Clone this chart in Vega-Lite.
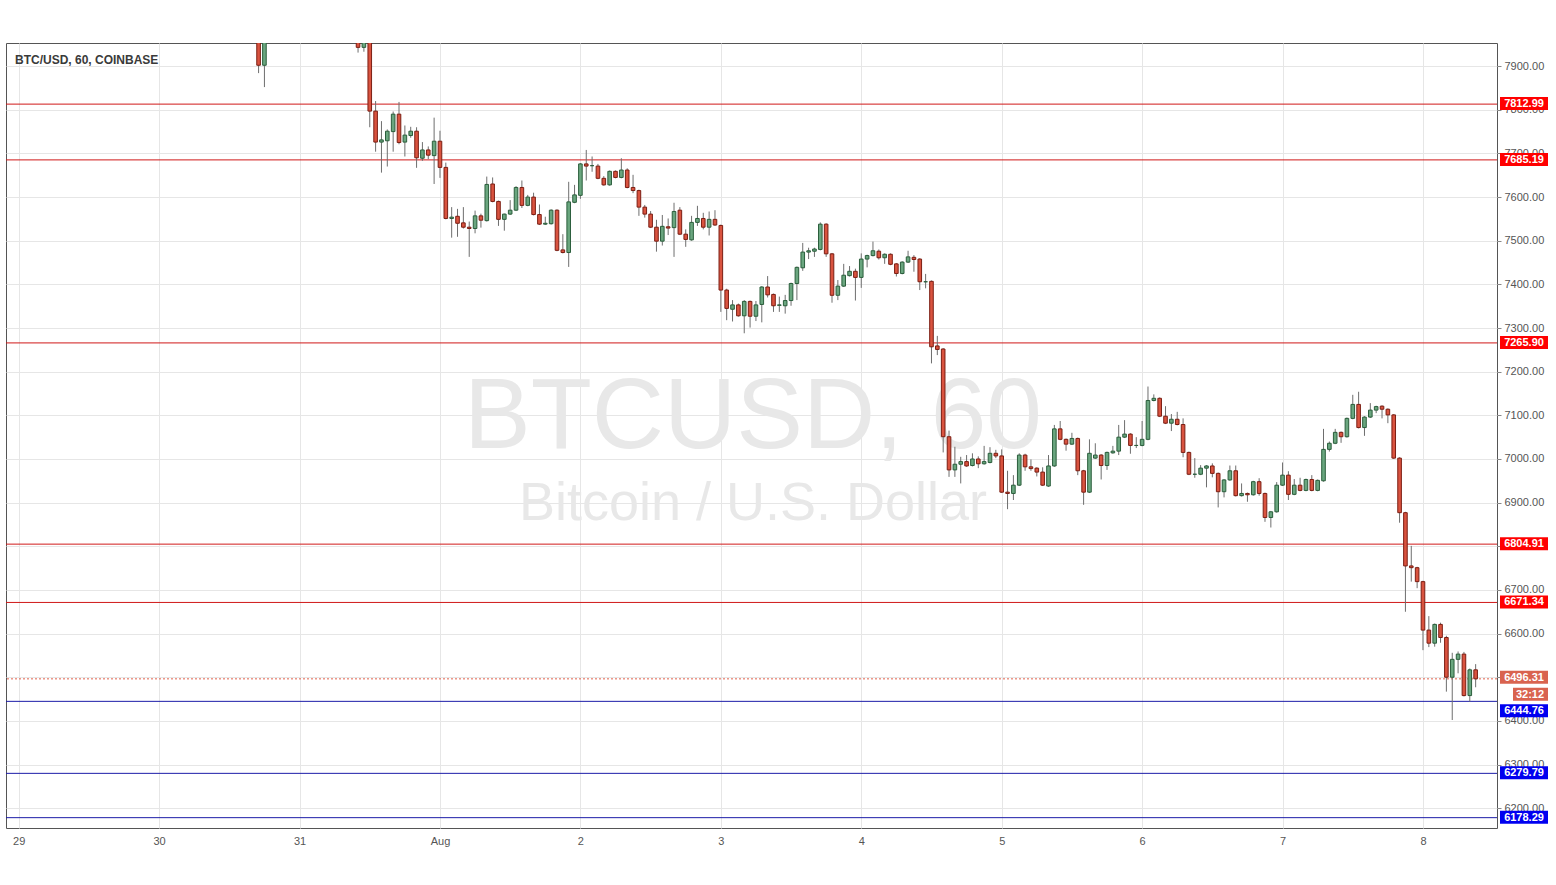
{
  "$schema": "https://vega.github.io/schema/vega-lite/v6.json",
  "width": 1491,
  "height": 785,
  "autosize": {"type": "none"},
  "padding": {"left": 6, "top": 43, "right": 59, "bottom": 57},
  "background": "#ffffff",
  "config": {
    "font": "Liberation Sans",
    "view": {"stroke": "#555555", "strokeWidth": 1}
  },
  "datasets": {
    "candles": [
      {"t":"2018-07-30T17:00Z","open":7960,"high":7985,"low":7884,"close":7902},
      {"t":"2018-07-30T18:00Z","open":7902,"high":7990,"low":7852,"close":7970},
      {"t":"2018-07-31T10:00Z","open":7975,"high":7990,"low":7931,"close":7943},
      {"t":"2018-07-31T11:00Z","open":7943,"high":7985,"low":7933,"close":7968},
      {"t":"2018-07-31T12:00Z","open":7968,"high":7980,"low":7760,"close":7797},
      {"t":"2018-07-31T13:00Z","open":7797,"high":7820,"low":7704,"close":7726},
      {"t":"2018-07-31T14:00Z","open":7726,"high":7774,"low":7656,"close":7731},
      {"t":"2018-07-31T15:00Z","open":7729,"high":7755,"low":7670,"close":7751},
      {"t":"2018-07-31T16:00Z","open":7750,"high":7796,"low":7704,"close":7790},
      {"t":"2018-07-31T17:00Z","open":7790,"high":7818,"low":7721,"close":7725},
      {"t":"2018-07-31T18:00Z","open":7726,"high":7764,"low":7693,"close":7742},
      {"t":"2018-07-31T19:00Z","open":7741,"high":7761,"low":7736,"close":7751},
      {"t":"2018-07-31T20:00Z","open":7751,"high":7760,"low":7667,"close":7690},
      {"t":"2018-07-31T21:00Z","open":7689,"high":7726,"low":7683,"close":7708},
      {"t":"2018-07-31T22:00Z","open":7708,"high":7716,"low":7687,"close":7696},
      {"t":"2018-07-31T23:00Z","open":7695,"high":7782,"low":7630,"close":7728},
      {"t":"2018-08-01T00:00Z","open":7728,"high":7752,"low":7644,"close":7668},
      {"t":"2018-08-01T01:00Z","open":7668,"high":7679,"low":7549,"close":7551},
      {"t":"2018-08-01T02:00Z","open":7551,"high":7577,"low":7507,"close":7554},
      {"t":"2018-08-01T03:00Z","open":7556,"high":7573,"low":7509,"close":7540},
      {"t":"2018-08-01T04:00Z","open":7541,"high":7577,"low":7528,"close":7531},
      {"t":"2018-08-01T05:00Z","open":7531,"high":7544,"low":7463,"close":7528},
      {"t":"2018-08-01T06:00Z","open":7528,"high":7569,"low":7517,"close":7557},
      {"t":"2018-08-01T07:00Z","open":7557,"high":7562,"low":7530,"close":7547},
      {"t":"2018-08-01T08:00Z","open":7546,"high":7647,"low":7544,"close":7629},
      {"t":"2018-08-01T09:00Z","open":7630,"high":7645,"low":7588,"close":7590},
      {"t":"2018-08-01T10:00Z","open":7590,"high":7592,"low":7534,"close":7549},
      {"t":"2018-08-01T11:00Z","open":7549,"high":7562,"low":7523,"close":7561},
      {"t":"2018-08-01T12:00Z","open":7561,"high":7593,"low":7559,"close":7570},
      {"t":"2018-08-01T13:00Z","open":7570,"high":7625,"low":7568,"close":7622},
      {"t":"2018-08-01T14:00Z","open":7622,"high":7638,"low":7575,"close":7581},
      {"t":"2018-08-01T15:00Z","open":7581,"high":7605,"low":7579,"close":7600},
      {"t":"2018-08-01T16:00Z","open":7600,"high":7610,"low":7558,"close":7560},
      {"t":"2018-08-01T17:00Z","open":7560,"high":7583,"low":7536,"close":7538},
      {"t":"2018-08-01T18:00Z","open":7538,"high":7555,"low":7536,"close":7540},
      {"t":"2018-08-01T19:00Z","open":7539,"high":7572,"low":7537,"close":7570},
      {"t":"2018-08-01T20:00Z","open":7570,"high":7572,"low":7476,"close":7478},
      {"t":"2018-08-01T21:00Z","open":7479,"high":7515,"low":7471,"close":7473},
      {"t":"2018-08-01T22:00Z","open":7473,"high":7635,"low":7440,"close":7589},
      {"t":"2018-08-01T23:00Z","open":7588,"high":7628,"low":7586,"close":7605},
      {"t":"2018-08-02T00:00Z","open":7604,"high":7678,"low":7596,"close":7676},
      {"t":"2018-08-02T01:00Z","open":7676,"high":7708,"low":7638,"close":7671},
      {"t":"2018-08-02T02:00Z","open":7672,"high":7693,"low":7658,"close":7672},
      {"t":"2018-08-02T03:00Z","open":7671,"high":7676,"low":7641,"close":7643},
      {"t":"2018-08-02T04:00Z","open":7643,"high":7648,"low":7626,"close":7628},
      {"t":"2018-08-02T05:00Z","open":7628,"high":7661,"low":7626,"close":7659},
      {"t":"2018-08-02T06:00Z","open":7659,"high":7661,"low":7643,"close":7645},
      {"t":"2018-08-02T07:00Z","open":7645,"high":7689,"low":7643,"close":7662},
      {"t":"2018-08-02T08:00Z","open":7662,"high":7666,"low":7620,"close":7622},
      {"t":"2018-08-02T09:00Z","open":7622,"high":7651,"low":7609,"close":7615},
      {"t":"2018-08-02T10:00Z","open":7615,"high":7617,"low":7557,"close":7577},
      {"t":"2018-08-02T11:00Z","open":7577,"high":7582,"low":7553,"close":7561},
      {"t":"2018-08-02T12:00Z","open":7561,"high":7568,"low":7529,"close":7531},
      {"t":"2018-08-02T13:00Z","open":7531,"high":7548,"low":7475,"close":7499},
      {"t":"2018-08-02T14:00Z","open":7499,"high":7559,"low":7489,"close":7533},
      {"t":"2018-08-02T15:00Z","open":7532,"high":7551,"low":7513,"close":7529},
      {"t":"2018-08-02T16:00Z","open":7530,"high":7587,"low":7463,"close":7567},
      {"t":"2018-08-02T17:00Z","open":7570,"high":7577,"low":7513,"close":7515},
      {"t":"2018-08-02T18:00Z","open":7515,"high":7526,"low":7486,"close":7503},
      {"t":"2018-08-02T19:00Z","open":7502,"high":7557,"low":7500,"close":7542},
      {"t":"2018-08-02T20:00Z","open":7542,"high":7580,"low":7534,"close":7551},
      {"t":"2018-08-02T21:00Z","open":7551,"high":7564,"low":7526,"close":7531},
      {"t":"2018-08-02T22:00Z","open":7531,"high":7567,"low":7512,"close":7549},
      {"t":"2018-08-02T23:00Z","open":7549,"high":7570,"low":7534,"close":7536},
      {"t":"2018-08-03T00:00Z","open":7535,"high":7537,"low":7337,"close":7387},
      {"t":"2018-08-03T01:00Z","open":7387,"high":7390,"low":7318,"close":7345},
      {"t":"2018-08-03T02:00Z","open":7343,"high":7364,"low":7315,"close":7353},
      {"t":"2018-08-03T03:00Z","open":7353,"high":7356,"low":7326,"close":7328},
      {"t":"2018-08-03T04:00Z","open":7328,"high":7364,"low":7288,"close":7361},
      {"t":"2018-08-03T05:00Z","open":7361,"high":7363,"low":7301,"close":7327},
      {"t":"2018-08-03T06:00Z","open":7327,"high":7362,"low":7316,"close":7353},
      {"t":"2018-08-03T07:00Z","open":7354,"high":7396,"low":7313,"close":7394},
      {"t":"2018-08-03T08:00Z","open":7394,"high":7419,"low":7370,"close":7376},
      {"t":"2018-08-03T09:00Z","open":7377,"high":7379,"low":7337,"close":7351},
      {"t":"2018-08-03T10:00Z","open":7352,"high":7372,"low":7337,"close":7353},
      {"t":"2018-08-03T11:00Z","open":7351,"high":7376,"low":7333,"close":7363},
      {"t":"2018-08-03T12:00Z","open":7363,"high":7404,"low":7351,"close":7402},
      {"t":"2018-08-03T13:00Z","open":7402,"high":7441,"low":7364,"close":7439},
      {"t":"2018-08-03T14:00Z","open":7438,"high":7495,"low":7431,"close":7474},
      {"t":"2018-08-03T15:00Z","open":7474,"high":7484,"low":7458,"close":7477},
      {"t":"2018-08-03T16:00Z","open":7476,"high":7484,"low":7463,"close":7481},
      {"t":"2018-08-03T17:00Z","open":7480,"high":7542,"low":7478,"close":7538},
      {"t":"2018-08-03T18:00Z","open":7538,"high":7540,"low":7463,"close":7470},
      {"t":"2018-08-03T19:00Z","open":7470,"high":7472,"low":7358,"close":7375},
      {"t":"2018-08-03T20:00Z","open":7375,"high":7410,"low":7364,"close":7396},
      {"t":"2018-08-03T21:00Z","open":7396,"high":7447,"low":7394,"close":7421},
      {"t":"2018-08-03T22:00Z","open":7420,"high":7442,"low":7418,"close":7430},
      {"t":"2018-08-03T23:00Z","open":7430,"high":7436,"low":7363,"close":7416},
      {"t":"2018-08-04T00:00Z","open":7416,"high":7471,"low":7392,"close":7458},
      {"t":"2018-08-04T01:00Z","open":7458,"high":7468,"low":7439,"close":7466},
      {"t":"2018-08-04T02:00Z","open":7466,"high":7498,"low":7464,"close":7477},
      {"t":"2018-08-04T03:00Z","open":7476,"high":7480,"low":7457,"close":7461},
      {"t":"2018-08-04T04:00Z","open":7461,"high":7471,"low":7447,"close":7469},
      {"t":"2018-08-04T05:00Z","open":7469,"high":7471,"low":7444,"close":7446},
      {"t":"2018-08-04T06:00Z","open":7447,"high":7449,"low":7418,"close":7425},
      {"t":"2018-08-04T07:00Z","open":7425,"high":7453,"low":7423,"close":7451},
      {"t":"2018-08-04T08:00Z","open":7451,"high":7477,"low":7449,"close":7463},
      {"t":"2018-08-04T09:00Z","open":7462,"high":7467,"low":7429,"close":7457},
      {"t":"2018-08-04T10:00Z","open":7458,"high":7460,"low":7387,"close":7406},
      {"t":"2018-08-04T11:00Z","open":7406,"high":7424,"low":7391,"close":7406},
      {"t":"2018-08-04T12:00Z","open":7407,"high":7409,"low":7219,"close":7257},
      {"t":"2018-08-04T13:00Z","open":7259,"high":7282,"low":7238,"close":7251},
      {"t":"2018-08-04T14:00Z","open":7252,"high":7254,"low":7015,"close":7051},
      {"t":"2018-08-04T15:00Z","open":7051,"high":7065,"low":6959,"close":6975},
      {"t":"2018-08-04T16:00Z","open":6975,"high":7028,"low":6959,"close":6988},
      {"t":"2018-08-04T17:00Z","open":6988,"high":7005,"low":6944,"close":6994},
      {"t":"2018-08-04T18:00Z","open":6994,"high":7009,"low":6982,"close":6984},
      {"t":"2018-08-04T19:00Z","open":6985,"high":7013,"low":6983,"close":7000},
      {"t":"2018-08-04T20:00Z","open":7000,"high":7006,"low":6979,"close":6989},
      {"t":"2018-08-04T21:00Z","open":6989,"high":7030,"low":6987,"close":6994},
      {"t":"2018-08-04T22:00Z","open":6992,"high":7027,"low":6990,"close":7013},
      {"t":"2018-08-04T23:00Z","open":7013,"high":7021,"low":7002,"close":7007},
      {"t":"2018-08-05T00:00Z","open":7007,"high":7022,"low":6922,"close":6924},
      {"t":"2018-08-05T01:00Z","open":6924,"high":6973,"low":6885,"close":6921},
      {"t":"2018-08-05T02:00Z","open":6921,"high":6963,"low":6906,"close":6940},
      {"t":"2018-08-05T03:00Z","open":6940,"high":7013,"low":6938,"close":7009},
      {"t":"2018-08-05T04:00Z","open":7009,"high":7012,"low":6973,"close":6982},
      {"t":"2018-08-05T05:00Z","open":6982,"high":6999,"low":6973,"close":6978},
      {"t":"2018-08-05T06:00Z","open":6979,"high":6981,"low":6960,"close":6970},
      {"t":"2018-08-05T07:00Z","open":6970,"high":6981,"low":6938,"close":6940},
      {"t":"2018-08-05T08:00Z","open":6938,"high":7009,"low":6936,"close":6984},
      {"t":"2018-08-05T09:00Z","open":6984,"high":7078,"low":6982,"close":7069},
      {"t":"2018-08-05T10:00Z","open":7069,"high":7087,"low":7043,"close":7045},
      {"t":"2018-08-05T11:00Z","open":7045,"high":7047,"low":7019,"close":7034},
      {"t":"2018-08-05T12:00Z","open":7034,"high":7060,"low":7032,"close":7047},
      {"t":"2018-08-05T13:00Z","open":7047,"high":7049,"low":6963,"close":6973},
      {"t":"2018-08-05T14:00Z","open":6973,"high":6975,"low":6895,"close":6924},
      {"t":"2018-08-05T15:00Z","open":6924,"high":7045,"low":6922,"close":7013},
      {"t":"2018-08-05T16:00Z","open":7002,"high":7036,"low":7000,"close":7009},
      {"t":"2018-08-05T17:00Z","open":7009,"high":7011,"low":6953,"close":6985},
      {"t":"2018-08-05T18:00Z","open":6985,"high":7017,"low":6975,"close":7015},
      {"t":"2018-08-05T19:00Z","open":7014,"high":7030,"low":7012,"close":7018},
      {"t":"2018-08-05T20:00Z","open":7018,"high":7078,"low":7009,"close":7050},
      {"t":"2018-08-05T21:00Z","open":7050,"high":7089,"low":7048,"close":7057},
      {"t":"2018-08-05T22:00Z","open":7057,"high":7059,"low":7012,"close":7031},
      {"t":"2018-08-05T23:00Z","open":7031,"high":7050,"low":7025,"close":7031},
      {"t":"2018-08-06T00:00Z","open":7031,"high":7087,"low":7029,"close":7045},
      {"t":"2018-08-06T01:00Z","open":7045,"high":7166,"low":7043,"close":7134},
      {"t":"2018-08-06T02:00Z","open":7134,"high":7148,"low":7132,"close":7139},
      {"t":"2018-08-06T03:00Z","open":7139,"high":7141,"low":7096,"close":7098},
      {"t":"2018-08-06T04:00Z","open":7098,"high":7121,"low":7080,"close":7082},
      {"t":"2018-08-06T05:00Z","open":7082,"high":7103,"low":7064,"close":7091},
      {"t":"2018-08-06T06:00Z","open":7091,"high":7108,"low":7077,"close":7079},
      {"t":"2018-08-06T07:00Z","open":7079,"high":7093,"low":7004,"close":7015},
      {"t":"2018-08-06T08:00Z","open":7015,"high":7017,"low":6963,"close":6965},
      {"t":"2018-08-06T09:00Z","open":6965,"high":7002,"low":6957,"close":6965},
      {"t":"2018-08-06T10:00Z","open":6965,"high":6986,"low":6963,"close":6979},
      {"t":"2018-08-06T11:00Z","open":6979,"high":6986,"low":6935,"close":6984},
      {"t":"2018-08-06T12:00Z","open":6984,"high":6990,"low":6958,"close":6967},
      {"t":"2018-08-06T13:00Z","open":6967,"high":6969,"low":6889,"close":6925},
      {"t":"2018-08-06T14:00Z","open":6925,"high":6954,"low":6912,"close":6952},
      {"t":"2018-08-06T15:00Z","open":6952,"high":6985,"low":6950,"close":6973},
      {"t":"2018-08-06T16:00Z","open":6973,"high":6985,"low":6914,"close":6916},
      {"t":"2018-08-06T17:00Z","open":6916,"high":6944,"low":6914,"close":6921},
      {"t":"2018-08-06T18:00Z","open":6921,"high":6923,"low":6902,"close":6918},
      {"t":"2018-08-06T19:00Z","open":6918,"high":6950,"low":6916,"close":6948},
      {"t":"2018-08-06T20:00Z","open":6948,"high":6956,"low":6916,"close":6921},
      {"t":"2018-08-06T21:00Z","open":6921,"high":6923,"low":6856,"close":6866},
      {"t":"2018-08-06T22:00Z","open":6866,"high":6881,"low":6843,"close":6879},
      {"t":"2018-08-06T23:00Z","open":6879,"high":6947,"low":6877,"close":6940},
      {"t":"2018-08-07T00:00Z","open":6940,"high":6992,"low":6938,"close":6963},
      {"t":"2018-08-07T01:00Z","open":6963,"high":6972,"low":6906,"close":6919},
      {"t":"2018-08-07T02:00Z","open":6919,"high":6954,"low":6917,"close":6940},
      {"t":"2018-08-07T03:00Z","open":6940,"high":6957,"low":6926,"close":6928},
      {"t":"2018-08-07T04:00Z","open":6928,"high":6955,"low":6926,"close":6953},
      {"t":"2018-08-07T05:00Z","open":6953,"high":6963,"low":6926,"close":6928},
      {"t":"2018-08-07T06:00Z","open":6928,"high":6953,"low":6926,"close":6951},
      {"t":"2018-08-07T07:00Z","open":6950,"high":7069,"low":6948,"close":7022},
      {"t":"2018-08-07T08:00Z","open":7022,"high":7040,"low":7017,"close":7036},
      {"t":"2018-08-07T09:00Z","open":7036,"high":7069,"low":7034,"close":7061},
      {"t":"2018-08-07T10:00Z","open":7061,"high":7063,"low":7037,"close":7051},
      {"t":"2018-08-07T11:00Z","open":7051,"high":7095,"low":7049,"close":7093},
      {"t":"2018-08-07T12:00Z","open":7093,"high":7147,"low":7091,"close":7125},
      {"t":"2018-08-07T13:00Z","open":7125,"high":7154,"low":7070,"close":7072},
      {"t":"2018-08-07T14:00Z","open":7072,"high":7098,"low":7053,"close":7096},
      {"t":"2018-08-07T15:00Z","open":7096,"high":7128,"low":7094,"close":7112},
      {"t":"2018-08-07T16:00Z","open":7112,"high":7122,"low":7105,"close":7120},
      {"t":"2018-08-07T17:00Z","open":7121,"high":7123,"low":7093,"close":7114},
      {"t":"2018-08-07T18:00Z","open":7114,"high":7116,"low":7082,"close":7101},
      {"t":"2018-08-07T19:00Z","open":7101,"high":7103,"low":7000,"close":7002},
      {"t":"2018-08-07T20:00Z","open":7002,"high":7004,"low":6854,"close":6877},
      {"t":"2018-08-07T21:00Z","open":6877,"high":6879,"low":6650,"close":6755},
      {"t":"2018-08-07T22:00Z","open":6755,"high":6801,"low":6719,"close":6751},
      {"t":"2018-08-07T23:00Z","open":6751,"high":6753,"low":6704,"close":6719},
      {"t":"2018-08-08T00:00Z","open":6719,"high":6721,"low":6562,"close":6608},
      {"t":"2018-08-08T01:00Z","open":6608,"high":6640,"low":6569,"close":6578},
      {"t":"2018-08-08T02:00Z","open":6578,"high":6623,"low":6570,"close":6621},
      {"t":"2018-08-08T03:00Z","open":6621,"high":6625,"low":6579,"close":6591},
      {"t":"2018-08-08T04:00Z","open":6591,"high":6595,"low":6467,"close":6500},
      {"t":"2018-08-08T05:00Z","open":6500,"high":6556,"low":6402,"close":6541},
      {"t":"2018-08-08T06:00Z","open":6541,"high":6559,"low":6509,"close":6553},
      {"t":"2018-08-08T07:00Z","open":6553,"high":6558,"low":6456,"close":6458},
      {"t":"2018-08-08T08:00Z","open":6458,"high":6520,"low":6444,"close":6517},
      {"t":"2018-08-08T09:00Z","open":6517,"high":6530,"low":6477,"close":6496.31}
    ],
    "levels": [
      {"p": 7812.99, "kind": "resistance"},
      {"p": 7685.19, "kind": "resistance"},
      {"p": 7265.90, "kind": "resistance"},
      {"p": 6804.91, "kind": "resistance"},
      {"p": 6671.34, "kind": "resistance"},
      {"p": 6444.76, "kind": "support"},
      {"p": 6279.79, "kind": "support"},
      {"p": 6178.29, "kind": "support"}
    ],
    "last": [
      {"p": 6496.31, "countdown": "32:12"}
    ]
  },
  "layer": [
    {
      "data": {"values": [{"txt": "BTCUSD, 60"}]},
      "mark": {"type": "text", "font": "Liberation Sans", "fontSize": 100, "color": "#e8e8e8", "align": "center", "baseline": "alphabetic"},
      "encoding": {
        "x": {"datum": {"year": 2018, "month": 8, "date": 3, "hours": 5, "minutes": 30, "utc": true}, "type": "temporal"},
        "y": {"datum": 7025, "type": "quantitative"},
        "text": {"field": "txt"}
      }
    },
    {
      "data": {"values": [{"txt": "Bitcoin / U.S. Dollar"}]},
      "mark": {"type": "text", "font": "Liberation Sans", "fontSize": 54, "color": "#e8e8e8", "align": "center", "baseline": "alphabetic"},
      "encoding": {
        "x": {"datum": {"year": 2018, "month": 8, "date": 3, "hours": 5, "minutes": 30, "utc": true}, "type": "temporal"},
        "y": {"datum": 6860, "type": "quantitative"},
        "text": {"field": "txt"}
      }
    },
    {
      "data": {"name": "levels"},
      "mark": {"type": "rule", "strokeWidth": 1},
      "encoding": {
        "y": {"field": "p", "type": "quantitative"},
        "color": {"field": "kind", "type": "nominal", "scale": {"domain": ["resistance", "support"], "range": ["#d01818", "#1c1ca8"]}, "legend": null}
      }
    },
    {
      "data": {"name": "last"},
      "mark": {"type": "rule", "strokeWidth": 1, "color": "#e0604c", "strokeDash": [2, 2]},
      "encoding": {
        "y": {"field": "p", "type": "quantitative"}
      }
    },
    {
      "data": {"name": "candles"},
      "mark": {"type": "rule", "color": "#6e6e6e", "strokeWidth": 1, "clip": true},
      "encoding": {
        "x": {
          "field": "t", "type": "temporal",
          "scale": {"type": "utc", "padding": 0, "domain": [{"year": 2018, "month": 7, "date": 28, "hours": 21, "minutes": 50, "utc": true}, {"year": 2018, "month": 8, "date": 8, "hours": 12, "minutes": 39, "utc": true}]},
          "axis": {
            "orient": "bottom", "title": null, "domain": false, "ticks": false,
            "values": [
              {"year": 2018, "month": 7, "date": 29, "utc": true},
              {"year": 2018, "month": 7, "date": 30, "utc": true},
              {"year": 2018, "month": 7, "date": 31, "utc": true},
              {"year": 2018, "month": 8, "date": 1, "utc": true},
              {"year": 2018, "month": 8, "date": 2, "utc": true},
              {"year": 2018, "month": 8, "date": 3, "utc": true},
              {"year": 2018, "month": 8, "date": 4, "utc": true},
              {"year": 2018, "month": 8, "date": 5, "utc": true},
              {"year": 2018, "month": 8, "date": 6, "utc": true},
              {"year": 2018, "month": 8, "date": 7, "utc": true},
              {"year": 2018, "month": 8, "date": 8, "utc": true}
            ],
            "labelExpr": "utcdate(datum.value) == 1 ? 'Aug' : '' + utcdate(datum.value)",
            "labelFont": "Liberation Sans", "labelFontSize": 11, "labelColor": "#555555", "labelPadding": 7,
            "grid": true, "gridColor": "#e6e6e6", "gridWidth": 1
          }
        },
        "y": {
          "field": "low", "type": "quantitative",
          "scale": {"domain": [6154.6, 7953], "nice": false, "zero": false, "padding": 0},
          "axis": {
            "orient": "right", "title": null, "domain": false,
            "values": [6200, 6300, 6400, 6500, 6600, 6700, 6800, 6900, 7000, 7100, 7200, 7300, 7400, 7500, 7600, 7700, 7800, 7900],
            "format": ".2f",
            "labelFont": "Liberation Sans", "labelFontSize": 11, "labelColor": "#555555", "labelPadding": 3,
            "tickColor": "#888888", "tickSize": 4,
            "grid": true, "gridColor": "#e6e6e6", "gridWidth": 1
          }
        },
        "y2": {"field": "high"}
      }
    },
    {
      "data": {"name": "candles"},
      "mark": {"type": "bar", "width": 3.6, "strokeWidth": 1, "clip": true},
      "encoding": {
        "x": {"field": "t", "type": "temporal"},
        "y": {"field": "open", "type": "quantitative"},
        "y2": {"field": "close"},
        "fill": {"condition": {"test": "datum.close >= datum.open", "value": "#6aa67f"}, "value": "#d9533f"},
        "stroke": {"condition": {"test": "datum.close >= datum.open", "value": "#2b5e3c"}, "value": "#7b1e13"}
      }
    },
    {
      "data": {"name": "levels"},
      "transform": [{"filter": "datum.p != 6444.76"}],
      "mark": {"type": "rect", "xOffset": 3, "x2Offset": 51, "yOffset": -7, "y2Offset": 6},
      "encoding": {
        "x": {"datum": {"year": 2018, "month": 8, "date": 8, "hours": 12, "minutes": 39, "utc": true}, "type": "temporal"},
        "x2": {"datum": {"year": 2018, "month": 8, "date": 8, "hours": 12, "minutes": 39, "utc": true}},
        "y": {"field": "p", "type": "quantitative"},
        "y2": {"field": "p"},
        "fill": {"condition": {"test": "datum.kind == 'support'", "value": "#0000f0"}, "value": "#ff0000"}
      }
    },
    {
      "data": {"name": "levels"},
      "transform": [{"filter": "datum.p != 6444.76"}],
      "mark": {"type": "text", "dx": 27, "align": "center", "baseline": "middle", "font": "Liberation Sans", "fontSize": 11, "fontWeight": "bold", "color": "#ffffff"},
      "encoding": {
        "x": {"datum": {"year": 2018, "month": 8, "date": 8, "hours": 12, "minutes": 39, "utc": true}, "type": "temporal"},
        "y": {"field": "p", "type": "quantitative"},
        "text": {"field": "p", "format": ".2f"}
      }
    },
    {
      "data": {"name": "levels"},
      "transform": [{"filter": "datum.p == 6444.76"}],
      "mark": {"type": "rect", "xOffset": 3, "x2Offset": 51, "yOffset": 3, "y2Offset": 16, "color": "#0000f0"},
      "encoding": {
        "x": {"datum": {"year": 2018, "month": 8, "date": 8, "hours": 12, "minutes": 39, "utc": true}, "type": "temporal"},
        "x2": {"datum": {"year": 2018, "month": 8, "date": 8, "hours": 12, "minutes": 39, "utc": true}},
        "y": {"field": "p", "type": "quantitative"},
        "y2": {"field": "p"}
      }
    },
    {
      "data": {"name": "levels"},
      "transform": [{"filter": "datum.p == 6444.76"}],
      "mark": {"type": "text", "dx": 27, "dy": 10, "align": "center", "baseline": "middle", "font": "Liberation Sans", "fontSize": 11, "fontWeight": "bold", "color": "#ffffff"},
      "encoding": {
        "x": {"datum": {"year": 2018, "month": 8, "date": 8, "hours": 12, "minutes": 39, "utc": true}, "type": "temporal"},
        "y": {"field": "p", "type": "quantitative"},
        "text": {"field": "p", "format": ".2f"}
      }
    },
    {
      "data": {"name": "last"},
      "mark": {"type": "rect", "xOffset": 3, "x2Offset": 51, "yOffset": -8, "y2Offset": 5, "color": "#d9634f"},
      "encoding": {
        "x": {"datum": {"year": 2018, "month": 8, "date": 8, "hours": 12, "minutes": 39, "utc": true}, "type": "temporal"},
        "x2": {"datum": {"year": 2018, "month": 8, "date": 8, "hours": 12, "minutes": 39, "utc": true}},
        "y": {"field": "p", "type": "quantitative"},
        "y2": {"field": "p"}
      }
    },
    {
      "data": {"name": "last"},
      "mark": {"type": "rect", "xOffset": 16, "x2Offset": 51, "yOffset": 9, "y2Offset": 22, "color": "#d9634f"},
      "encoding": {
        "x": {"datum": {"year": 2018, "month": 8, "date": 8, "hours": 12, "minutes": 39, "utc": true}, "type": "temporal"},
        "x2": {"datum": {"year": 2018, "month": 8, "date": 8, "hours": 12, "minutes": 39, "utc": true}},
        "y": {"field": "p", "type": "quantitative"},
        "y2": {"field": "p"}
      }
    },
    {
      "data": {"name": "last"},
      "mark": {"type": "text", "dx": 27, "dy": -1, "align": "center", "baseline": "middle", "font": "Liberation Sans", "fontSize": 11, "fontWeight": "bold", "color": "#ffffff"},
      "encoding": {
        "x": {"datum": {"year": 2018, "month": 8, "date": 8, "hours": 12, "minutes": 39, "utc": true}, "type": "temporal"},
        "y": {"field": "p", "type": "quantitative"},
        "text": {"field": "p", "format": ".2f"}
      }
    },
    {
      "data": {"name": "last"},
      "mark": {"type": "text", "dx": 33, "dy": 16, "align": "center", "baseline": "middle", "font": "Liberation Sans", "fontSize": 11, "fontWeight": "bold", "color": "#ffffff"},
      "encoding": {
        "x": {"datum": {"year": 2018, "month": 8, "date": 8, "hours": 12, "minutes": 39, "utc": true}, "type": "temporal"},
        "y": {"field": "p", "type": "quantitative"},
        "text": {"field": "countdown"}
      }
    },
    {
      "data": {"values": [{"txt": "BTC/USD, 60, COINBASE"}]},
      "mark": {"type": "text", "dx": 9, "align": "left", "baseline": "middle", "font": "Liberation Sans", "fontSize": 12, "fontWeight": "bold", "color": "#3a3a3a"},
      "encoding": {
        "x": {"datum": {"year": 2018, "month": 7, "date": 28, "hours": 21, "minutes": 50, "utc": true}, "type": "temporal"},
        "y": {"datum": 7914, "type": "quantitative"},
        "text": {"field": "txt"}
      }
    }
  ]
}
